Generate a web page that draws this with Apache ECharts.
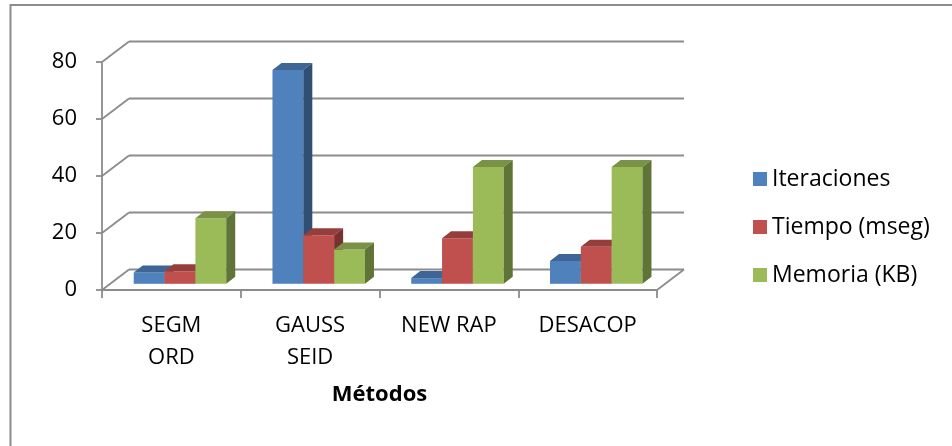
<!DOCTYPE html>
<html>
<head>
<meta charset="utf-8">
<title>Métodos</title>
<script src="https://cdn.jsdelivr.net/npm/echarts@6/dist/echarts.min.js"></script>
<style>
  html, body { margin: 0; padding: 0; background: #fff; }
  #chart { width: 952px; height: 446px; }
</style>
</head>
<body>
<div id="chart"></div>
<script>
// Categories, series and value-axis ticks
const categories = ['SEGM\nORD', 'GAUSS\nSEID', 'NEW RAP', 'DESACOP'];
const seriesNames = ['Iteraciones', 'Tiempo (mseg)', 'Memoria (KB)'];
const iteraciones = [4, 75, 2, 8];
const tiempo = [4.4, 17, 16, 13];
const memoria = [23, 12, 41, 41];
const yTicks = [0, 20, 40, 60, 80];

// Face colours per series: front, top, side
const palette = [
  { front: '#4f81bd', top: '#3e6593', side: '#314f75' },
  { front: '#c0504d', top: '#963e3c', side: '#77312f' },
  { front: '#9bbb59', top: '#799245', side: '#607437' }
];

const FONT = 'Open Sans';
const DEPTH = [27, -20.5];      // oblique offset of the back wall
const BAR_SHIFT = [8.6, -6.2];  // bars stand slightly inside the floor
const BAR_DEPTH = [9, -7];      // thickness of each column
const GAP_RATIO = 1.5;          // gap between clusters, in bar widths
const GRID_COLOR = '#8c8c8c';

function wallItem(params, api) {
  const cs = params.coordSys;
  const y = api.coord([0, api.value(1)])[1];
  const left = cs.x, right = cs.x + cs.width;
  const style = { stroke: GRID_COLOR, lineWidth: 1.8, fill: null };
  const children = [
    { type: 'line', shape: { x1: left, y1: y, x2: left + DEPTH[0], y2: y + DEPTH[1] }, style: style },
    { type: 'line', shape: { x1: left + DEPTH[0], y1: y + DEPTH[1], x2: right + DEPTH[0], y2: y + DEPTH[1] }, style: style }
  ];
  if (api.value(1) === yTicks[0]) {
    children.push({ type: 'line', shape: { x1: right, y1: y, x2: right + DEPTH[0], y2: y + DEPTH[1] }, style: style });
  }
  return { type: 'group', children: children };
}

function barRenderer(k) {
  const c = palette[k];
  return function (params, api) {
    const idx = api.value(0);
    const base = api.coord([idx, 0]);
    const top = api.coord([idx, api.value(1)]);
    const band = api.size([1, 0])[0];
    const bw = band / (seriesNames.length + GAP_RATIO);
    const x0 = base[0] - band / 2 + (GAP_RATIO / 2) * bw + k * bw + BAR_SHIFT[0];
    const x1 = x0 + bw;
    const yb = base[1] + BAR_SHIFT[1];
    const yt = top[1] + BAR_SHIFT[1];
    const dx = BAR_DEPTH[0], dy = BAR_DEPTH[1];
    return {
      type: 'group',
      children: [
        { type: 'rect', shape: { x: x0, y: yt, width: bw, height: yb - yt }, style: { fill: c.front } },
        { type: 'polygon', shape: { points: [[x0, yt], [x1, yt], [x1 + dx, yt + dy], [x0 + dx, yt + dy]] }, style: { fill: c.top } },
        { type: 'polygon', shape: { points: [[x1, yt], [x1 + dx, yt + dy], [x1 + dx, yb + dy], [x1, yb]] }, style: { fill: c.side } }
      ]
    };
  };
}

function pairs(values) {
  return values.map(function (v, i) { return [i, v]; });
}

const valueSets = [iteraciones, tiempo, memoria];

const chart = echarts.init(document.getElementById('chart'), null, { renderer: 'canvas' });

chart.setOption({
  animation: false,
  textStyle: { fontFamily: FONT },
  graphic: [{
    type: 'rect',
    shape: { x: 10.5, y: 5, width: 1000, height: 500 },
    style: { fill: null, stroke: '#8c8c8c', lineWidth: 2 },
    silent: true
  }],
  legend: {
    orient: 'vertical',
    left: 753,
    top: 167,
    padding: 0,
    itemWidth: 14,
    itemHeight: 14,
    itemGap: 24,
    icon: 'rect',
    textStyle: { fontFamily: FONT, fontSize: 23, color: '#000', lineHeight: 24 },
    data: seriesNames
  },
  grid: { left: 102, top: 62, width: 555, height: 228 },
  xAxis: {
    type: 'category',
    data: categories,
    name: 'Métodos',
    nameLocation: 'middle',
    nameGap: 94,
    nameTextStyle: { fontFamily: FONT, fontSize: 22, fontWeight: 'bold', color: '#000' },
    axisLine: { lineStyle: { color: GRID_COLOR, width: 1.8 } },
    axisTick: { show: true, length: 8, lineStyle: { color: GRID_COLOR, width: 1.8 } },
    axisLabel: { fontFamily: FONT, fontSize: 22, color: '#000', lineHeight: 32, margin: 20, interval: 0 },
    splitLine: { show: false }
  },
  yAxis: {
    type: 'value',
    min: yTicks[0],
    max: yTicks[yTicks.length - 1],
    interval: yTicks[1] - yTicks[0],
    axisLine: { show: true, lineStyle: { color: GRID_COLOR, width: 1.8 } },
    axisTick: { show: true, length: 6, lineStyle: { color: GRID_COLOR, width: 1.8 } },
    axisLabel: { fontFamily: FONT, fontSize: 22, color: '#000', margin: 25 },
    splitLine: { show: false }
  },
  series: [
    {
      type: 'custom',
      name: 'walls',
      silent: true,
      z: 1,
      renderItem: wallItem,
      encode: { x: 0, y: 1 },
      data: yTicks.map(function (t) { return [0, t]; })
    }
  ].concat(seriesNames.map(function (name, k) {
    return {
      type: 'custom',
      name: name,
      z: 2,
      itemStyle: { color: palette[k].front },
      renderItem: barRenderer(k),
      encode: { x: 0, y: 1 },
      data: pairs(valueSets[k])
    };
  }))
});
</script>
</body>
</html>
